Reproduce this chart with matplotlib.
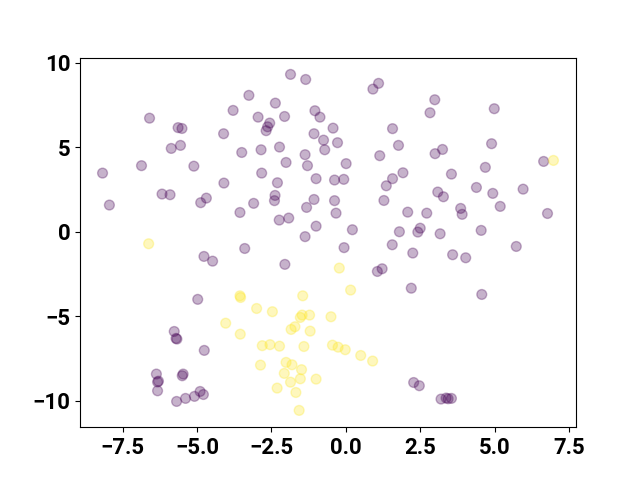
import matplotlib
matplotlib.use("Agg")
import matplotlib.pyplot as plt
import numpy as np

# class 0 (purple) points
x0 = [-6.60, -5.64, -5.51, -3.79, -3.26, -4.11, -5.87, -5.56, -3.50, -8.18,
      -6.87, -5.11, -4.10, -7.95, -6.18, -5.91, -4.88, -4.69, -3.56,
      -1.86, -1.35, -2.37, 0.91, 1.10, -2.95, -2.56, -2.63, -2.68, -2.06,
      -1.04, -0.87, -0.43, 1.57, -1.07, -0.75, -0.28, -0.71, 1.77, -2.85,
      -2.23, -1.37, -1.29, -2.01, 0.01, 1.14, -2.83, -2.30, -1.00, -0.38,
      -0.07, 1.92, 1.57, 1.36, -2.38, -2.40, -3.10, -1.07, -1.32, -0.38,
      -0.33, 1.28, 2.08, -2.24, -1.92, -1.00, 0.22, 1.80, -1.37,
      2.99, 2.83, 4.99, 4.90, 3.00, 3.25, 6.65, 3.55, 4.69, 4.39, 3.09,
      3.28, 4.94, 5.96, 2.72, 3.86, 3.91, 5.19, 6.78, 2.50, 2.42, 3.17, 4.55,
      -3.40, -4.77, -4.48, -4.98, -5.77, -5.71, -5.68, -4.76, -6.37, -6.30,
      -6.33, -6.33, -5.47, -5.50, -5.69, -5.39, -5.09, -4.90, -4.79,
      -0.06, 1.56, -2.05, 1.06, 1.22, 2.25, 2.20,
      3.59, 4.03, 5.73, 4.57, 2.28, 2.47, 3.20, 3.37, 3.44, 3.55]
y0 = [6.73, 6.17, 6.12, 7.19, 8.08, 5.81, 4.94, 5.12, 4.70, 3.48,
      3.92, 3.89, 2.89, 1.59, 2.24, 2.20, 1.73, 2.00, 1.15,
      9.32, 9.02, 7.62, 8.45, 8.79, 6.79, 6.44, 6.22, 5.99, 6.83,
      7.17, 6.79, 6.14, 6.11, 5.81, 5.43, 5.28, 4.86, 5.12, 4.86,
      5.02, 4.57, 3.92, 4.11, 4.04, 4.51, 3.48, 2.91, 3.15, 3.07,
      3.11, 3.50, 3.15, 2.73, 2.16, 1.85, 1.69, 1.92, 1.45, 1.85,
      1.11, 1.86, 1.17, 0.70, 0.82, 0.34, 0.13, 0.01, -0.28,
      7.82, 7.05, 7.29, 5.22, 4.63, 4.88, 4.17, 3.42, 3.82, 2.63, 2.36,
      2.08, 2.28, 2.53, 1.11, 1.39, 1.04, 1.51, 1.09, 0.22, -0.01, -0.11, 0.09,
      -0.98, -1.45, -1.73, -3.99, -5.89, -6.30, -6.34, -7.01, -8.41, -8.83,
      -8.88, -9.40, -8.41, -8.51, -10.03, -9.85, -9.73, -9.44, -9.62,
      -0.93, -0.76, -1.92, -2.34, -2.18, -1.25, -3.33,
      -1.35, -1.53, -0.86, -3.70, -8.91, -9.10, -9.89, -9.83, -9.87, -9.85]

# class 1 (yellow) points
x1 = [-6.63, 6.98, -3.56, -3.54, -4.04, -3.55, -0.22, 0.16, -1.45, -3.00,
      -2.47, -1.47, -1.53, -1.22, -0.50, -1.71, -1.84, -1.20, -2.81, -2.55,
      -2.23, -1.41, -0.45, -0.26, -0.02, 0.50, 0.90, -2.87, -2.01, -1.81,
      -1.49, -2.07, -1.86, -1.53, -1.00, -2.31, -1.68, -1.57]
y1 = [-0.70, 4.23, -3.78, -3.88, -5.40, -6.05, -2.14, -3.44, -3.78, -4.53,
      -4.72, -4.92, -5.06, -4.92, -5.02, -5.61, -5.77, -5.87, -6.73, -6.67,
      -6.76, -6.78, -6.70, -6.82, -6.97, -7.31, -7.64, -7.88, -7.72, -7.86,
      -8.15, -8.37, -8.89, -8.69, -8.71, -9.24, -9.50, -10.56]

x = np.array(x0 + x1)
y = np.array(y0 + y1)
labels = np.array([0] * len(x0) + [1] * len(x1))

plt.rcParams['font.family'] = ['Roboto', 'DejaVu Sans']
plt.rcParams['font.weight'] = 'bold'

fig, ax = plt.subplots(figsize=(6.4, 4.8), dpi=100)
ax.scatter(x, y, c=labels, cmap='viridis', s=50, alpha=0.3)
ax.set_xticks([-7.5, -5.0, -2.5, 0.0, 2.5, 5.0, 7.5])
ax.set_yticks([-10, -5, 0, 5, 10])
ax.tick_params(labelsize=16)
for lab in ax.get_xticklabels() + ax.get_yticklabels():
    lab.set_fontweight('bold')

fig.savefig("out.png")
